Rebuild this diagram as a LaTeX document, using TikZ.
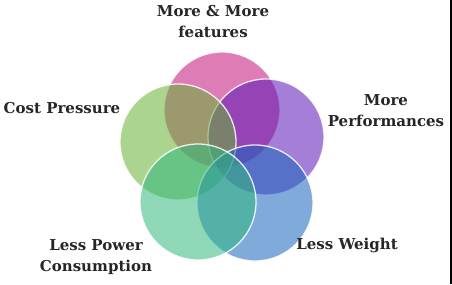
\documentclass[tikz,border=0pt]{standalone}
\usepackage{fontspec}
\setmainfont{DejaVu Serif}
\usetikzlibrary{positioning}
\usepackage{xcolor}
\definecolor{featc}{RGB}{196,19,122}
\definecolor{perfc}{RGB}{92,21,184}
\definecolor{weightc}{RGB}{23,101,188}
\definecolor{powerc}{RGB}{50,184,126}
\definecolor{costc}{RGB}{102,177,52}

\begin{document}
\begin{tikzpicture}[
  x=1pt, y=1pt,
  petal/.style={circle, draw=white, line width=1.3pt, draw opacity=0.85,
    fill opacity=0.55, minimum size=116pt, inner sep=0pt, outer sep=0pt},
  lbl/.style={align=center, font=\bfseries\fontsize{15}{21}\selectfont,
    text=black!85, inner sep=0pt},
]
\useasboundingbox[fill=white] (0,0) rectangle (452,284);
\fill[black] (449.6,0) rectangle (452,284);

% five overlapping circles
\node[petal, fill=featc]   (feat)   at (222,174) {};
\node[petal, fill=perfc]   (perf)   at (266,147) {};
\node[petal, fill=costc]   (cost)   at (178,142) {};
\node[petal, fill=weightc] (weight) at (255,81)  {};
\node[petal, fill=powerc]  (power)  at (198,82)  {};

% labels
\node[lbl] (featlbl)   at (213,262) {More \& More\\features};
\node[lbl] (costlbl)   at (62,176)  {Cost Pressure};
\node[lbl] (perflbl)   at (386,173) {More\\Performances};
\node[lbl] (powerlbl)  at (96,27)   {Less Power\\Consumption};
\node[lbl] (weightlbl) at (347,39)  {Less Weight};
\end{tikzpicture}
\end{document}
